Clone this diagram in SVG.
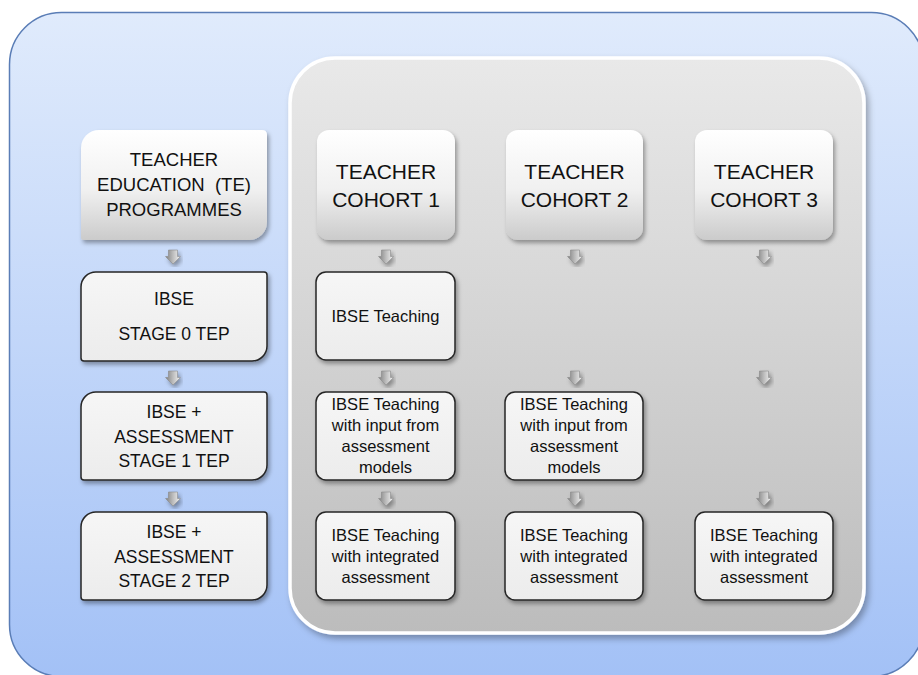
<svg xmlns="http://www.w3.org/2000/svg" width="918" height="675" viewBox="0 0 918 675">
<defs>
<linearGradient id="bgGrad" x1="0" y1="0" x2="0" y2="1">
<stop offset="0" stop-color="#e0ebfc"/>
<stop offset="1" stop-color="#a3c1f6"/>
</linearGradient>
<linearGradient id="panelGrad" x1="0" y1="0" x2="0" y2="1">
<stop offset="0" stop-color="#e9e9e9"/>
<stop offset="1" stop-color="#bcbcbc"/>
</linearGradient>
<linearGradient id="cardGrad" x1="0" y1="0" x2="0" y2="1">
<stop offset="0" stop-color="#ffffff"/>
<stop offset="0.55" stop-color="#f0f0f0"/>
<stop offset="1" stop-color="#cbcbcb"/>
</linearGradient>
<linearGradient id="boxGrad" x1="0" y1="0" x2="0" y2="1">
<stop offset="0" stop-color="#f6f6f6"/>
<stop offset="1" stop-color="#ececec"/>
</linearGradient>
<linearGradient id="arrowGrad" x1="0" y1="0" x2="1" y2="0">
<stop offset="0" stop-color="#7f7f7f"/>
<stop offset="0.5" stop-color="#bdbdbd"/>
<stop offset="1" stop-color="#f4f4f4"/>
</linearGradient>
<filter id="shadow" x="-10%" y="-10%" width="125%" height="130%">
<feDropShadow dx="2" dy="3" stdDeviation="2" flood-color="#000" flood-opacity="0.35"/>
</filter>
<filter id="softShadow" x="-5%" y="-5%" width="115%" height="115%">
<feDropShadow dx="3" dy="4" stdDeviation="3" flood-color="#000" flood-opacity="0.3"/>
</filter>
<path id="arrow" d="M-4.5,0 H4.5 V6.5 H7.5 L0,14 L-7.5,6.5 H-4.5 Z"/>
</defs>
<style>
.bg { fill: url(#bgGrad); stroke: #5a7db6; stroke-width: 1.5; }
.panel { fill: url(#panelGrad); stroke: #ffffff; stroke-width: 3.5; filter: url(#softShadow); }
.card { fill: url(#cardGrad); filter: url(#shadow); }
.box { fill: url(#boxGrad); stroke: #262626; stroke-width: 1.5; filter: url(#shadow); }
.arr { fill: url(#arrowGrad); stroke: #8a8a8a; stroke-width: 0.6; filter: url(#shadow); }
text { font-family: "Liberation Sans", Arial, sans-serif; fill: #111111; text-anchor: middle; }
.t20 { font-size: 21px; }
.t18 { font-size: 18.5px; }
.t17 { font-size: 17.5px; }
.t16 { font-size: 16.5px; }
</style>

<rect class="bg" x="9.5" y="12.5" width="914" height="664" rx="52" ry="52"/>
<rect class="panel" x="290" y="58" width="574" height="575" rx="45" ry="45"/>

<g id="te-programmes">
<path class="card" d="M99,130 H262 Q267,130 267,135 V222 A18,18 0 0 1 249,240 H83 Q81,240 81,238 V148 A18,18 0 0 1 99,130 Z"/>
<text class="t18" x="174" y="166">TEACHER</text>
<text class="t18" x="174" y="191">EDUCATION&#160; (TE)</text>
<text class="t18" x="174" y="216">PROGRAMMES</text>
</g>

<g id="stage0">
<path class="box" d="M96,272 H264 Q267,272 267,275 V346 A15,15 0 0 1 252,361 H84 Q81,361 81,358 V287 A15,15 0 0 1 96,272 Z"/>
<text class="t17" x="174" y="305">IBSE</text>
<text class="t17" x="174" y="340">STAGE 0 TEP</text>
</g>

<g id="stage1">
<path class="box" d="M96,392 H264 Q267,392 267,395 V465 A15,15 0 0 1 252,480 H84 Q81,480 81,477 V407 A15,15 0 0 1 96,392 Z"/>
<text class="t17" x="174" y="418">IBSE +</text>
<text class="t17" x="174" y="443">ASSESSMENT</text>
<text class="t17" x="174" y="467">STAGE 1 TEP</text>
</g>

<g id="stage2">
<path class="box" d="M96,512 H264 Q267,512 267,515 V585 A15,15 0 0 1 252,600 H84 Q81,600 81,597 V527 A15,15 0 0 1 96,512 Z"/>
<text class="t17" x="174" y="538">IBSE +</text>
<text class="t17" x="174" y="563">ASSESSMENT</text>
<text class="t17" x="174" y="587">STAGE 2 TEP</text>
</g>

<g id="cohort1">
<rect class="card" x="317" y="130" width="138" height="110" rx="12" ry="12"/>
<text class="t20" x="386" y="179">TEACHER</text>
<text class="t20" x="386" y="207">COHORT 1</text>
</g>

<g id="cohort2">
<rect class="card" x="506" y="130" width="137" height="110" rx="12" ry="12"/>
<text class="t20" x="574.5" y="179">TEACHER</text>
<text class="t20" x="574.5" y="207">COHORT 2</text>
</g>

<g id="cohort3">
<rect class="card" x="695" y="130" width="138" height="110" rx="12" ry="12"/>
<text class="t20" x="764" y="179">TEACHER</text>
<text class="t20" x="764" y="207">COHORT 3</text>
</g>

<g id="c1-ibse">
<rect class="box" x="316" y="272" width="139" height="88" rx="10" ry="10"/>
<text class="t16" x="385.5" y="322">IBSE Teaching</text>
</g>

<g id="c1-input">
<rect class="box" x="316" y="392" width="139" height="88" rx="10" ry="10"/>
<text class="t16" x="385.5" y="410">IBSE Teaching</text>
<text class="t16" x="385.5" y="431">with input from</text>
<text class="t16" x="385.5" y="452">assessment</text>
<text class="t16" x="385.5" y="473">models</text>
</g>

<g id="c1-integrated">
<rect class="box" x="316" y="512" width="139" height="88" rx="10" ry="10"/>
<text class="t16" x="385.5" y="541">IBSE Teaching</text>
<text class="t16" x="385.5" y="562">with integrated</text>
<text class="t16" x="385.5" y="583">assessment</text>
</g>

<g id="c2-input">
<rect class="box" x="505" y="392" width="138" height="88" rx="10" ry="10"/>
<text class="t16" x="574" y="410">IBSE Teaching</text>
<text class="t16" x="574" y="431">with input from</text>
<text class="t16" x="574" y="452">assessment</text>
<text class="t16" x="574" y="473">models</text>
</g>

<g id="c2-integrated">
<rect class="box" x="505" y="512" width="138" height="88" rx="10" ry="10"/>
<text class="t16" x="574" y="541">IBSE Teaching</text>
<text class="t16" x="574" y="562">with integrated</text>
<text class="t16" x="574" y="583">assessment</text>
</g>

<g id="c3-integrated">
<rect class="box" x="695" y="512" width="138" height="88" rx="10" ry="10"/>
<text class="t16" x="764" y="541">IBSE Teaching</text>
<text class="t16" x="764" y="562">with integrated</text>
<text class="t16" x="764" y="583">assessment</text>
</g>

<g id="connectors">
<use href="#arrow" class="arr" transform="translate(173,250)"/>
<use href="#arrow" class="arr" transform="translate(173,371)"/>
<use href="#arrow" class="arr" transform="translate(173,492)"/>
<use href="#arrow" class="arr" transform="translate(386,250)"/>
<use href="#arrow" class="arr" transform="translate(386,371)"/>
<use href="#arrow" class="arr" transform="translate(386,492)"/>
<use href="#arrow" class="arr" transform="translate(575,250)"/>
<use href="#arrow" class="arr" transform="translate(575,371)"/>
<use href="#arrow" class="arr" transform="translate(575,492)"/>
<use href="#arrow" class="arr" transform="translate(764,250)"/>
<use href="#arrow" class="arr" transform="translate(764,371)"/>
<use href="#arrow" class="arr" transform="translate(764,492)"/>
</g>
</svg>
